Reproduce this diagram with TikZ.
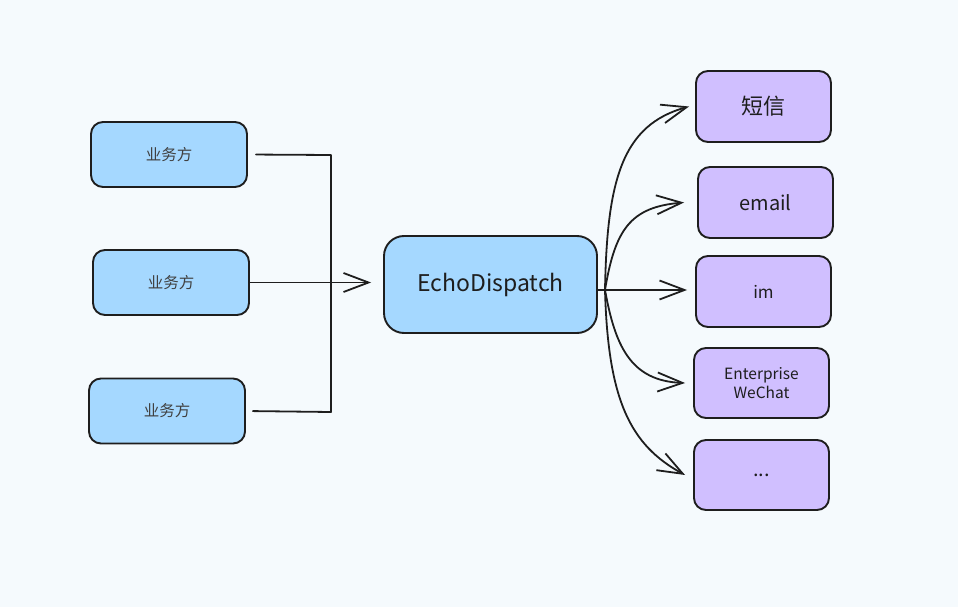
\documentclass[tikz,border=0pt]{standalone}
\usepackage{fontspec}
\setmainfont{Noto Sans CJK SC}
\usetikzlibrary{arrows.meta}
\definecolor{bgcol}{HTML}{F5FAFD}
\definecolor{srccol}{HTML}{A5D8FF}
\definecolor{chancol}{HTML}{D0BFFF}
\definecolor{inkcol}{HTML}{1E1E1E}
\begin{document}
\begin{tikzpicture}[x=1pt,y=-1pt,
    box/.style={draw=inkcol, line width=1.9pt, rounded corners=12pt, inner sep=0pt, anchor=center},
    src/.style={box, fill=srccol, minimum width=156pt, minimum height=65pt, text=inkcol!85, font=\fontsize{15.5}{17}\selectfont},
    hub/.style={box, fill=srccol, rounded corners=20pt, minimum width=213pt, minimum height=97pt, text=inkcol, font=\fontsize{23}{25}\selectfont},
    chan/.style={box, fill=chancol, minimum width=135pt, minimum height=71pt, text=inkcol, font=\fontsize{20}{22}\selectfont},
    wire/.style={draw=inkcol, line width=1.8pt, line cap=round, line join=round},
    arr/.style={wire, -{Straight Barb[length=25pt,width=19pt,line width=1.8pt]}}]
            \fill[bgcol] (0,0) rectangle (958,607);
            \node[src] (s1) at (169,154.5) {业务方};
            \node[src] (s2) at (171,282.5) {业务方};
            \node[src] (s3) at (167,411) {业务方};
            \node[hub] (echo) at (490.5,284.5) {EchoDispatch};
            \node[chan, font=\fontsize{22}{24}\selectfont] (c1) at (763.5,106.5) {短信};
            \node[chan] (c2) at (765.5,202.5) {email};
            \node[chan, font=\fontsize{17}{19}\selectfont] (c3) at (763.5,291.5) {im};
            \node[chan, minimum height=70pt, align=center, font=\fontsize{15.5}{19}\selectfont] (c4) at (761.5,383) {Enterprise\\WeChat};
            \node[chan, minimum height=70pt] (c5) at (761.5,475) {...};
            \coordinate (j1) at (331,155);
            \coordinate (j3) at (331,412);
            \coordinate (fan) at (605,290);
            \draw[wire, shorten <=8pt, shorten >=7pt] (s1.east) -- (j1) -- (j3) -- (s3.east);
            \draw[arr, shorten >=12pt] (s2.east) -- (s2.east -| echo.west);
            \draw[wire] (echo.east |- fan) -- (fan);
            \draw[arr] (fan) .. controls (607,180) and (622,125) .. ([xshift=-6pt]c1.west);
            \draw[arr] (fan) .. controls (615,230) and (630,207) .. ([xshift=-13pt]c2.west);
            \draw[arr] (fan) -- ([xshift=-8pt]c3.west |- fan);
            \draw[arr] (fan) .. controls (615,345) and (630,381) .. ([xshift=-8pt]c4.west);
            \draw[arr] (fan) .. controls (608,400) and (630,445) .. ([xshift=-8pt]c5.west);
        \end{tikzpicture}
\end{document}
